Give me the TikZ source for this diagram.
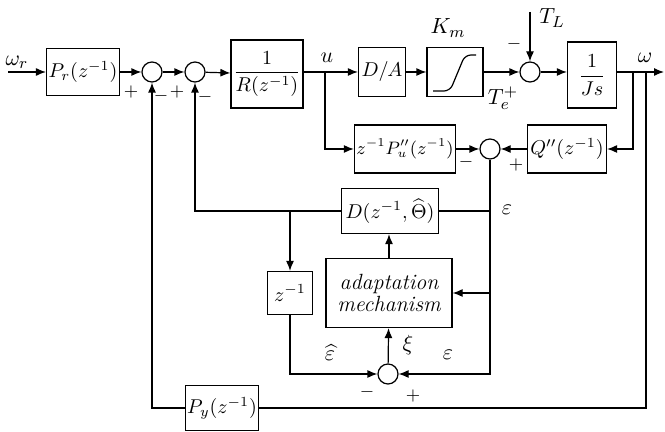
\documentclass[tikz,border=0pt]{standalone}
\usepackage{amsmath}
\usetikzlibrary{arrows.meta, positioning, calc}
\tikzset{
  every picture/.style={line width=0.6pt},
  box/.style={draw, inner sep=1pt, align=center},
  junction/.style={draw, circle, minimum size=10pt, inner sep=0pt},
  arrow/.style={-{Latex[length=5pt, width=4pt]}},
  sign/.style={font=\small, inner sep=0pt},
  lbl/.style={inner sep=0pt, font=\fontsize{11}{13}\selectfont},
}

\begin{document}
\begin{tikzpicture}[x=0.5pt, y=-0.5pt]
  \useasboundingbox (0,0) rectangle (665,432);
  % forward path
  \coordinate (wr) at (8,72);
  \node[box, minimum width=35pt, minimum height=23.5pt] (pr) at (83,72) {$P_r(z^{-1})$};
  \node[junction] (s1) at (152,72) {};
  \node[junction] (s2) at (195,72) {};
  \node[box, minimum width=36pt, minimum height=34pt] (rinv) at (267,74) {$\dfrac{1}{R(z^{-1})}$};
  \coordinate (u) at (325,72);
  \node[box, minimum width=23.5pt, minimum height=24.5pt] (da) at (382,72) {$D/A$};
  \node[box, minimum width=28pt, minimum height=24.5pt] (sat) at (455,72) {};
  \draw[rounded corners=3pt] (sat.center) ++(-22,19) -- ++(17,0) -- ++(15,-36) -- ++(11,0);
  \node[junction] (s3) at (530,72) {};
  \coordinate (tl) at (530,12);
  \node[box, minimum width=24.5pt, minimum height=33pt] (js) at (592,75) {$\dfrac{1}{Js}$};
  \coordinate (b1) at (633,72);
  \coordinate (b2) at (646,72);
  \coordinate (out) at (664,72);
  % model / observer part
  \node[box, minimum width=47pt, minimum height=24pt, font=\fontsize{9}{11}\selectfont] (pu) at (405,149) {$z^{-1}P''_{u}(z^{-1})$};
  \node[junction] (s4) at (490,149) {};
  \node[box, minimum width=39.5pt, minimum height=24pt] (q) at (567,149) {$Q''(z^{-1})$};
  \node[box, minimum width=48.5pt, minimum height=22.5pt] (d) at (390,211) {$D(z^{-1},\widehat{\Theta})$};
  \node[box, minimum width=63pt, minimum height=34.5pt, font=\fontsize{11}{13}\selectfont\itshape] (adapt) at (389,293) {adaptation\\[-2pt]mechanism};
  \node[box, minimum width=22.5pt, minimum height=21.5pt] (zi) at (290,293) {$z^{-1}$};
  \node[junction] (s5) at (388,374) {};
  \node[box, minimum width=35pt, minimum height=22.5pt] (py) at (222,408) {$P_y(z^{-1})$};
  \coordinate (e1) at (490,374);
  \coordinate (b3) at (646,408);

  % connectors
  \draw[arrow] (wr) -- (pr);
  \draw[arrow] (pr) -- (s1);
  \draw[arrow] (s1) -- (s2);
  \draw[arrow] (s2) -- (rinv);
  \draw[arrow] (rinv.east |- u) -- (da);
  \draw[arrow] (da) -- (sat);
  \draw[arrow] (sat) -- (s3);
  \draw[arrow] (tl) -- (s3);
  \draw[arrow] (s3) -- (js.west |- s3);
  \draw[arrow] (js.east |- b1) -- (out);
  \draw[arrow] (b1) |- (q);
  \draw[arrow] (q) -- (s4);
  \draw[arrow] (u) |- (pu);
  \draw[arrow] (pu) -- (s4);
  \draw[arrow] (s4) -- (e1) -- (s5);
  \draw (d) -- (d -| s4);
  \draw[arrow] (adapt -| s4) -- (adapt);
  \draw[arrow] (adapt) -- (adapt |- d.south);
  \draw[arrow] (d) -| (s2);
  \draw[arrow] (d -| zi) -- (zi);
  \draw[arrow] (zi) |- (s5);
  \draw[arrow] (s5) -- (adapt);
  \draw (b2) -- (b3) -- (py);
  \draw[arrow] (py) -| (s1);

  % labels
  \node[lbl] (lwr) at (17,62) {$\omega_r$};
  \node[lbl] (lu) at (327,58) {$u$};
  \node[lbl] (lkm) at (448,28) {$K_m$};
  \node[lbl] (ltl) at (552,18) {$T_L$};
  \node[sign] (m3) at (514,44) {$-$};
  \node[lbl] (lte) at (503,98) {$T_e^{+}$};
  \node[lbl] (lw) at (645,58) {$\omega$};
  \node[sign] (p1) at (131,92) {$+$};
  \node[sign] (m1) at (161,96) {$-$};
  \node[sign] (p2) at (177,92) {$+$};
  \node[sign] (m2) at (205,97) {$-$};
  \node[sign] (m4) at (466,162) {$-$};
  \node[sign] (p4) at (516,165) {$+$};
  \node[lbl] (le1) at (507,210) {$\varepsilon$};
  \node[lbl] (lxi) at (408,345) {$\xi$};
  \node[lbl] (leh) at (330,353) {$\widehat{\varepsilon}$};
  \node[lbl] (le2) at (448,355) {$\varepsilon$};
  \node[sign] (m5) at (367,392) {$-$};
  \node[sign] (p5) at (413,396) {$+$};
\end{tikzpicture}
\end{document}
